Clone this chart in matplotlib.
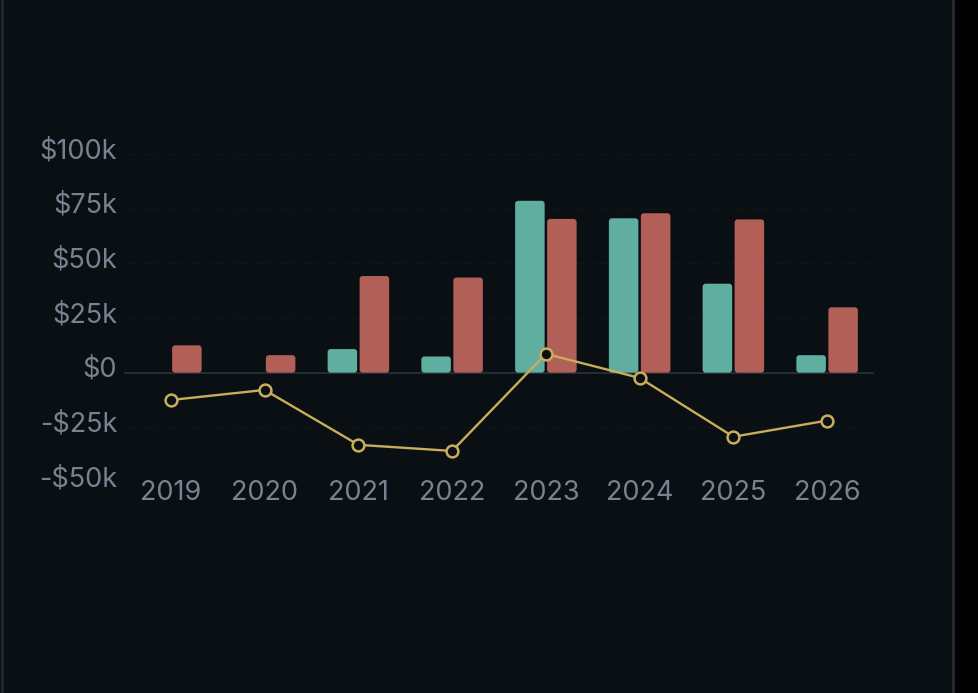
#!/usr/bin/env python3

import matplotlib

matplotlib.use("Agg")
import matplotlib.pyplot as plt
from matplotlib.patches import FancyBboxPatch, Rectangle
from matplotlib.transforms import ScaledTranslation

years = ["2019", "2020", "2021", "2022", "2023", "2024", "2025", "2026"]
teal_values = [0, 0, 10.8, 7.4, 78.6, 70.6, 40.7, 8.0]
red_values = [12.5, 8.0, 44.2, 43.5, 70.3, 72.9, 70.1, 29.9]
line_values = [-12.5, -7.9, -33.0, -35.8, 8.6, -2.4, -29.3, -21.9]
y_ticks = [-50, -25, 0, 25, 50, 75, 100]
y_tick_labels = ["-$50k", "-$25k", "$0", "$25k", "$50k", "$75k", "$100k"]

W, H = 979, 693
BG = "#0a0f13"
TEAL = "#5fae9f"
RED = "#b15f57"
GOLD = "#c9ad5c"
TEXT = "#778390"

plt.rcParams["font.family"] = ["Inter", "DejaVu Sans"]

fig = plt.figure(figsize=(W / 100, H / 100), dpi=100, facecolor=BG)
ax = fig.add_axes([124 / W, 1 - 482 / H, 750 / W, 328 / H], facecolor=BG)
ax.set_xlim(-0.5, 7.5)
ax.set_ylim(-50, 100)

# one x unit = 93.75 px, one y unit = 2.187 px
x_per_px = 8 / 750
y_per_px = 150 / 328
bar_w = 29.5 * x_per_px
gap = 2.5 * x_per_px
radius = 3 * x_per_px


def rounded_bar(x, value, color):
    ax.add_patch(
        FancyBboxPatch(
            (x, 0),
            bar_w,
            value,
            boxstyle=f"round,pad=0,rounding_size={radius}",
            mutation_aspect=y_per_px / x_per_px,
            facecolor=color,
            edgecolor="none",
            zorder=3,
        )
    )


for i in range(len(years)):
    if teal_values[i] > 0:
        rounded_bar(i - gap / 2 - bar_w, teal_values[i], TEAL)
    rounded_bar(i + gap / 2, red_values[i], RED)

ax.plot(
    range(len(years)),
    line_values,
    color=GOLD,
    lw=1.7,
    marker="o",
    ms=8.5,
    mfc=BG,
    mec=GOLD,
    mew=1.8,
    zorder=4,
    clip_on=False,
)

for val in y_ticks:
    if val != 0:
        ax.axhline(val, color="#161b21", lw=0.7, ls=(0, (2, 3)), zorder=1)
ax.axhline(0, color="#2b323c", lw=1.2, zorder=2)

for side in ax.spines.values():
    side.set_visible(False)

ax.set_xticks(range(len(years)), years)
ax.set_yticks(y_ticks, y_tick_labels)
ax.tick_params(axis="both", length=0, labelcolor=TEXT, labelsize=19.5)
ax.tick_params(axis="y", pad=5)
ax.tick_params(axis="x", pad=-1.5)

# y labels sit a little above their grid lines
shift = ScaledTranslation(0, 6 / 100, fig.dpi_scale_trans)
for label in ax.get_yticklabels():
    label.set_transform(label.get_transform() + shift)

# screenshot edges: light strips and the black margin on the right
fig.add_artist(Rectangle((1 / W, 0), 3 / W, 1, transform=fig.transFigure, fc="#20252a", ec="none"))
fig.add_artist(Rectangle((952 / W, 0), 3 / W, 1, transform=fig.transFigure, fc="#23282e", ec="none"))
fig.add_artist(Rectangle((955 / W, 0), 24 / W, 1, transform=fig.transFigure, fc="#000000", ec="none"))

fig.savefig("out.png", dpi=100, facecolor=BG)
plt.close(fig)
